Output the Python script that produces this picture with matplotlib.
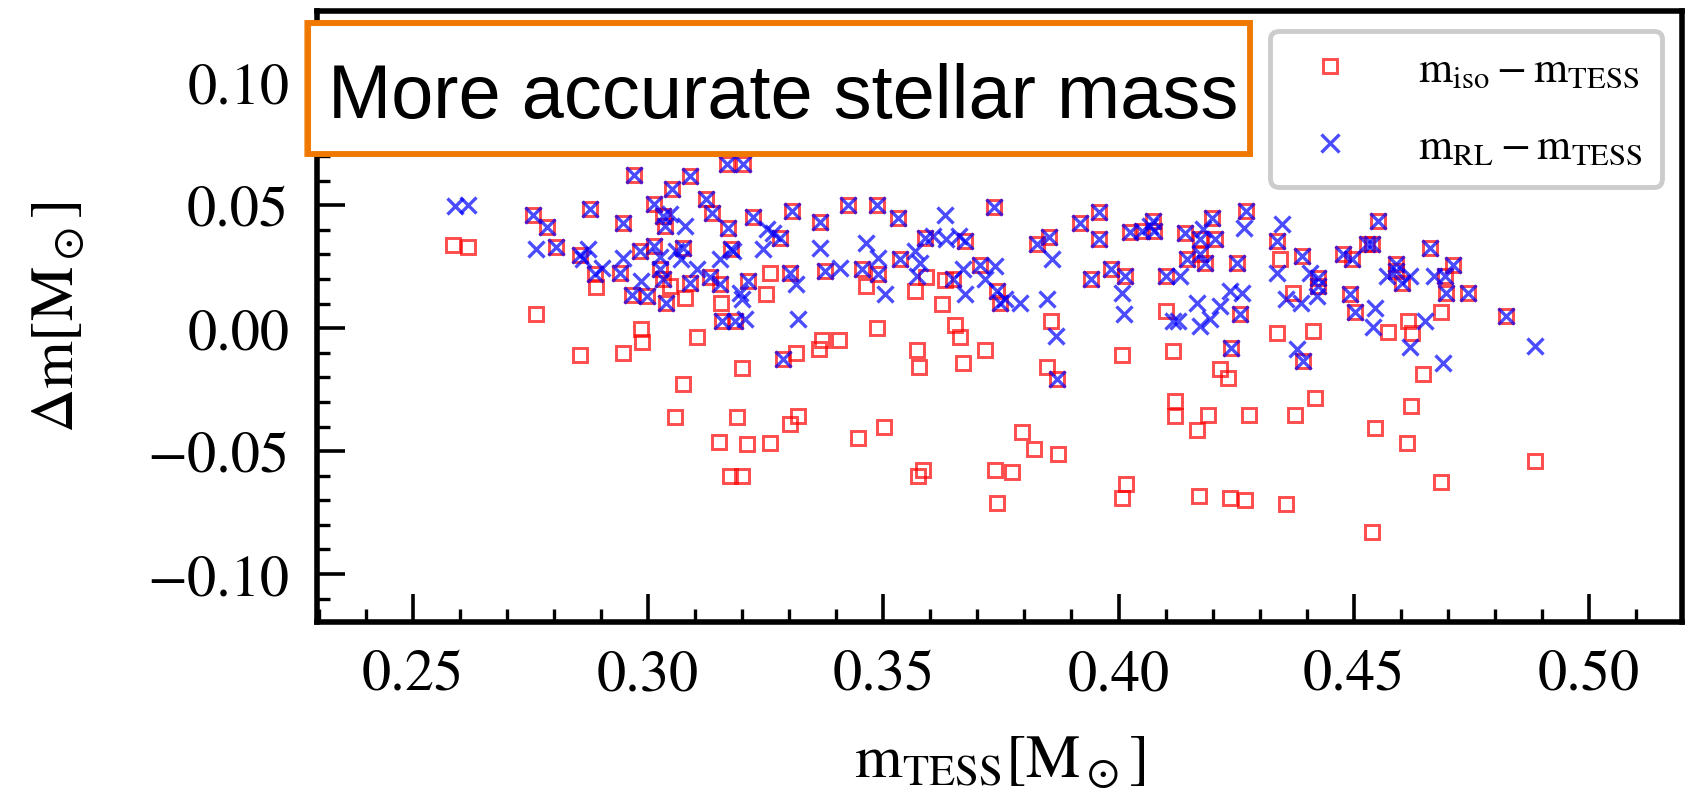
import matplotlib
matplotlib.use("Agg")
import matplotlib.pyplot as plt
from matplotlib.patches import Rectangle
from matplotlib.ticker import MultipleLocator

plt.rcParams['font.family'] = ['STIXGeneral', 'DejaVu Serif']
plt.rcParams['mathtext.fontset'] = 'stix'

# ---- data: (m_TESS, Δm) ----
# points where both estimates coincide
both_x = [0.2756, 0.2784, 0.2804, 0.2876, 0.2855, 0.2887, 0.2947, 0.2940, 0.2965, 0.2970,
          0.2997, 0.2983, 0.3012, 0.3013, 0.3032, 0.3036, 0.3025, 0.3032, 0.3039, 0.3050,
          0.3075, 0.3089, 0.3089, 0.3123, 0.3135, 0.3131, 0.3153, 0.3158, 0.3167, 0.3202,
          0.3170, 0.3177, 0.3184, 0.3213, 0.3223, 0.3280, 0.3305, 0.3301, 0.3286,
          0.3365, 0.3376, 0.3425, 0.3454, 0.3486, 0.3489, 0.3532, 0.3535, 0.3588, 0.3649,
          0.3674, 0.3706, 0.3735, 0.3741, 0.3748, 0.3826, 0.3853, 0.3870, 0.3919, 0.3959,
          0.3959, 0.3941, 0.3985, 0.4014, 0.4024, 0.4049, 0.4073, 0.4076, 0.4102,
          0.4141, 0.4173, 0.4198, 0.4205, 0.4145, 0.4173, 0.4184, 0.4258, 0.4251, 0.4271,
          0.4240, 0.4393, 0.4336, 0.4391, 0.4425, 0.4425, 0.4478, 0.4496, 0.4528, 0.4540,
          0.4552, 0.4492, 0.4503, 0.4591, 0.4602, 0.4591, 0.4662, 0.4694, 0.4696, 0.4712,
          0.4742, 0.4824]
both_dm = [0.0459, 0.0413, 0.0332, 0.0483, 0.0296, 0.0219, 0.0429, 0.0226, 0.0134, 0.0622,
           0.0131, 0.0314, 0.0504, 0.0334, 0.0456, 0.0416, 0.0240, 0.0199, 0.0104, 0.0565,
           0.0328, 0.0619, 0.0183, 0.0527, 0.0467, 0.0210, 0.0179, 0.0030, 0.0666, 0.0666,
           0.0409, 0.0321, 0.0030, 0.0192, 0.0454, 0.0368, 0.0477, 0.0226, -0.0126,
           0.0432, 0.0233, 0.0500, 0.0240, 0.0500, 0.0219, 0.0450, 0.0283, 0.0368, 0.0199,
           0.0355, 0.0256, 0.0494, 0.0151, 0.0104, 0.0341, 0.0372, -0.0208, 0.0429, 0.0473,
           0.0361, 0.0199, 0.0242, 0.0213, 0.0391, 0.0395, 0.0436, 0.0395, 0.0213,
           0.0386, 0.0361, 0.0449, 0.0364, 0.0280, 0.0300, 0.0267, 0.0057, 0.0267, 0.0477,
           -0.0079, -0.0133, 0.0355, 0.0294, 0.0172, 0.0206, 0.0301, 0.0280, 0.0341, 0.0341,
           0.0436, 0.0138, 0.0064, 0.0233, 0.0185, 0.0260, 0.0328, 0.0213, 0.0142, 0.0256,
           0.0145, 0.0050]

# m_iso - m_TESS only
iso_x = [0.2586, 0.2616, 0.2761, 0.2889, 0.2856, 0.2947, 0.2984, 0.2987, 0.3046, 0.3078,
         0.3075, 0.3058, 0.3103, 0.3155, 0.3151, 0.3189, 0.3199, 0.3211, 0.3174, 0.3199,
         0.3259, 0.3259, 0.3251, 0.3314, 0.3319, 0.3301,
         0.3364, 0.3369, 0.3406, 0.3464, 0.3447, 0.3486, 0.3502, 0.3567, 0.3591, 0.3571,
         0.3576, 0.3585, 0.3574, 0.3624, 0.3631, 0.3652, 0.3664, 0.3669, 0.3717, 0.3794,
         0.3820, 0.3872, 0.3737, 0.3773, 0.3741, 0.3856, 0.3847, 0.4007, 0.4016, 0.4007,
         0.4102, 0.4116, 0.4120, 0.4120,
         0.4216, 0.4232, 0.4191, 0.4166, 0.4278, 0.4172, 0.4237, 0.4269, 0.4357, 0.4375,
         0.4418, 0.4338, 0.4414, 0.4343, 0.4370, 0.4574, 0.4545, 0.4540, 0.4616, 0.4625,
         0.4621, 0.4613, 0.4648, 0.4685, 0.4685, 0.4885]
iso_dm = [0.0337, 0.0332, 0.0057, 0.0169, -0.0110, -0.0099, -0.0002, -0.0055, 0.0172, 0.0124,
          -0.0225, -0.0363, -0.0034, 0.0104, -0.0462, -0.0363, -0.0160, -0.0472, -0.0601, -0.0601,
          -0.0468, 0.0226, 0.0138, -0.0102, -0.0357, -0.0390,
          -0.0086, -0.0048, -0.0048, 0.0172, -0.0445, 0.0002, -0.0400, 0.0151, 0.0210, -0.0088,
          -0.0157, -0.0576, -0.0601, 0.0097, 0.0196, 0.0012, -0.0034, -0.0140, -0.0088, -0.0424,
          -0.0492, -0.0513, -0.0576, -0.0584, -0.0712, 0.0030, -0.0156, -0.0110, -0.0635, -0.0689,
          0.0070, -0.0093, -0.0296, -0.0357,
          -0.0167, -0.0201, -0.0354, -0.0414, -0.0354, -0.0682, -0.0689, -0.0698, -0.0716, -0.0354,
          -0.0286, -0.0018, -0.0011, 0.0280, 0.0145, -0.0015, -0.0404, -0.0828, 0.0030, -0.0018,
          -0.0316, -0.0468, -0.0187, 0.0064, -0.0625, -0.0540]

# m_RL - m_TESS only
rl_x = [0.2589, 0.2617, 0.2761, 0.2873, 0.2862, 0.2901, 0.2946, 0.2984, 0.3046, 0.3078,
        0.3060, 0.3103, 0.3153, 0.3199, 0.3206, 0.3252, 0.3245, 0.3266, 0.3315, 0.3319,
        0.3180, 0.3025, 0.3070, 0.3195,
        0.3365, 0.3408, 0.3464, 0.3489, 0.3503, 0.3567, 0.3577, 0.3571, 0.3606, 0.3631,
        0.3634, 0.3661, 0.3670, 0.3674, 0.3716, 0.3737, 0.3759, 0.3790, 0.3847, 0.3858,
        0.3868, 0.4007, 0.4012, 0.4066, 0.4116,
        0.4180, 0.4131, 0.4166, 0.4127, 0.4173, 0.4194, 0.4216, 0.4237, 0.4262, 0.4267,
        0.4379, 0.4347, 0.4336, 0.4357, 0.4389, 0.4407, 0.4421, 0.4545, 0.4542, 0.4620,
        0.4570, 0.4620, 0.4652, 0.4689, 0.4670, 0.4885]
rl_dm = [0.0497, 0.0500, 0.0324, 0.0321, 0.0280, 0.0246, 0.0287, 0.0192, 0.0463, 0.0416,
         0.0314, 0.0240, 0.0280, 0.0118, 0.0036, 0.0402, 0.0321, 0.0388, 0.0179, 0.0036,
         0.0315, 0.0290, 0.0280, 0.0145,
         0.0328, 0.0246, 0.0348, 0.0287, 0.0138, 0.0314, 0.0267, 0.0213, 0.0375, 0.0459,
         0.0361, 0.0375, 0.0240, 0.0138, 0.0199, 0.0253, 0.0120, 0.0104, 0.0118, 0.0283,
         -0.0031, 0.0145, 0.0057, 0.0415, 0.0030,
         0.0402, 0.0213, 0.0104, 0.0030, 0.0009, 0.0036, 0.0091, 0.0152, 0.0145, 0.0409,
         -0.0086, 0.0423, 0.0226, 0.0120, 0.0104, 0.0226, 0.0131, 0.0084, 0.0003, 0.0213,
         0.0213, -0.0075, 0.0030, -0.0140, 0.0213, -0.0072]

x_ticks = [0.25, 0.30, 0.35, 0.40, 0.45, 0.50]
y_ticks = [-0.10, -0.05, 0.00, 0.05, 0.10]
label_iso = r'$\mathrm{m_{iso}-m_{TESS}}$'
label_rl = r'$\mathrm{m_{RL}-m_{TESS}}$'
box_text = 'More accurate stellar mass'

W, H, DPI = 1705, 803, 100
fig = plt.figure(figsize=(W / DPI, H / DPI), dpi=DPI)
ax = fig.add_axes([317 / W, 1 - 623 / H, (1682 - 317) / W, (623 - 12) / H])

iso_all_x = iso_x + both_x
iso_all_y = iso_dm + both_dm
rl_all_x = rl_x + both_x
rl_all_y = rl_dm + both_dm

ax.plot(iso_all_x, iso_all_y, ls='none', marker='s', ms=10.0, mfc='none',
        mec='red', mew=2.1, alpha=0.7, label=label_iso, zorder=2)
ax.plot(rl_all_x, rl_all_y, ls='none', marker='x', ms=12.0, mec='blue',
        mew=2.4, alpha=0.7, label=label_rl, zorder=3)

ax.set_xlim(0.2296, 0.5198)
ax.set_ylim(-0.1195, 0.129)
ax.set_xticks(x_ticks)
ax.set_yticks(y_ticks)
ax.set_xticklabels([f'{v:.2f}' for v in x_ticks])
ax.set_yticklabels([f'{v:.2f}'.replace('-', '\u2212') for v in y_ticks])
ax.xaxis.set_minor_locator(MultipleLocator(0.01))
ax.yaxis.set_minor_locator(MultipleLocator(0.01))
ax.tick_params(which='both', direction='in', top=False, right=False, labelsize=42)
ax.tick_params(which='major', length=20, width=2.6, pad=20)
ax.tick_params(which='minor', length=9.5, width=2.4)
for sp in ax.spines.values():
    sp.set_linewidth(4.0)

ax.set_xlabel(r'$\mathrm{m_{TESS}[M_\odot]}$', fontsize=44, labelpad=22)
ax.set_ylabel(r'$\mathrm{\Delta m[M_\odot]}$', fontsize=44, labelpad=44)

leg = ax.legend(loc='upper right', fontsize=31.5, frameon=True, fancybox=True,
                borderaxespad=0.45, borderpad=0.45, handlelength=1.83,
                handletextpad=1.1, labelspacing=0.85, markerscale=1.05)
fr = leg.get_frame()
fr.set_edgecolor('#cccccc')
fr.set_linewidth(3.5)
fr.set_alpha(1.0)

# sketchy orange annotation box
bx0, bx1 = 308 / W, 1250 / W
by0, by1 = 1 - 155 / H, 1 - 24 / H
orange = '#f07800'
fig.patches.append(Rectangle((bx0, by0), bx1 - bx0, by1 - by0, transform=fig.transFigure,
                             facecolor='white', edgecolor=orange, linewidth=4.2, zorder=10))
fig.patches.append(Rectangle((bx0 - 0.002, by0 - 0.003), bx1 - bx0 + 0.003, by1 - by0 + 0.005,
                             transform=fig.transFigure, facecolor='none', edgecolor=orange,
                             linewidth=1.2, alpha=0.7, zorder=11))
fig.patches.append(Rectangle((bx0 + 0.001, by0 + 0.002), bx1 - bx0 - 0.002, by1 - by0 - 0.004,
                             transform=fig.transFigure, facecolor='none', edgecolor=orange,
                             linewidth=0.8, alpha=0.5, zorder=11))
fig.text(328 / W, 1 - 118 / H, box_text, fontsize=54.5, family='Liberation Sans',
         ha='left', va='baseline', color='black', zorder=12)

fig.savefig('out.png', dpi=DPI)
